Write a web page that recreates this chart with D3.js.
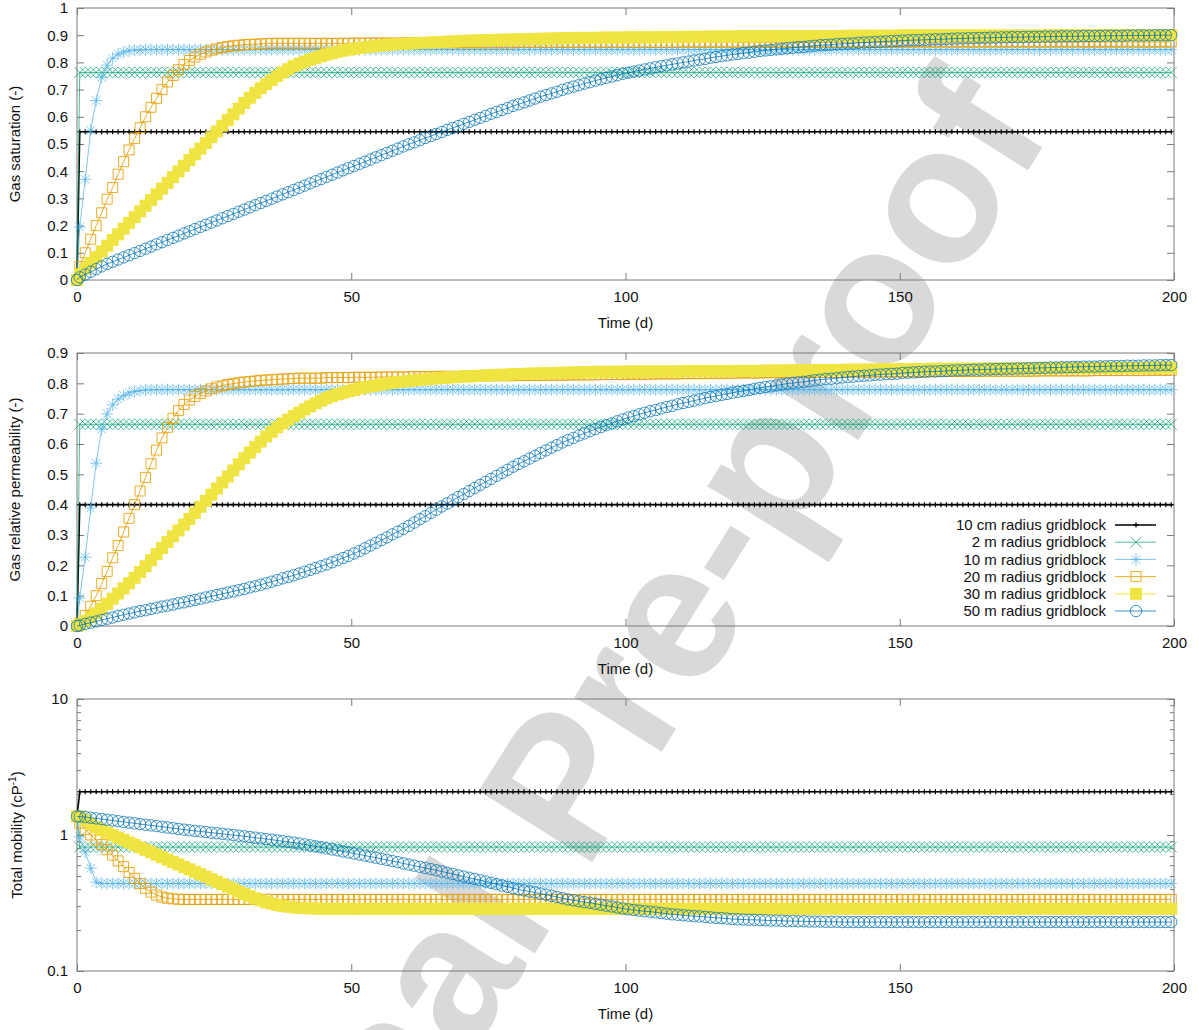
<!DOCTYPE html>
<html>
<head>
<meta charset="utf-8">
<script src="https://cdn.jsdelivr.net/npm/d3@7"></script>
<style>
  body { margin: 0; background: #fff; }
  svg { display: block; font-family: "Liberation Sans", Arial, sans-serif; }
</style>
</head>
<body>
<svg id="chart" width="1199" height="1030"></svg>
<script>
// Output times (d): initial state, then one record per day at mid-step.
const days = [0].concat(d3.range(0.5, 200, 1));

const seriesNames = ["10 cm radius gridblock", "2 m radius gridblock", "10 m radius gridblock",
                     "20 m radius gridblock", "30 m radius gridblock", "50 m radius gridblock"];

const xTicks = [0, 50, 100, 150, 200];
const sgTicks = [0, 0.1, 0.2, 0.3, 0.4, 0.5, 0.6, 0.7, 0.8, 0.9, 1];
const krTicks = [0, 0.1, 0.2, 0.3, 0.4, 0.5, 0.6, 0.7, 0.8, 0.9];
const mobTicks = [0.1, 1, 10];
const mobMinorTicks = [0.2, 0.3, 0.4, 0.5, 0.6, 0.7, 0.8, 0.9, 2, 3, 4, 5, 6, 7, 8, 9];

// ---------- Gas saturation (-) ----------
const sg10cm = [0,
0.545,0.545,0.545,0.545,0.545,0.545,0.545,0.545,0.545,0.545,
0.545,0.545,0.545,0.545,0.545,0.545,0.545,0.545,0.545,0.545,
0.545,0.545,0.545,0.545,0.545,0.545,0.545,0.545,0.545,0.545,
0.545,0.545,0.545,0.545,0.545,0.545,0.545,0.545,0.545,0.545,
0.545,0.545,0.545,0.545,0.545,0.545,0.545,0.545,0.545,0.545,
0.545,0.545,0.545,0.545,0.545,0.545,0.545,0.545,0.545,0.545,
0.545,0.545,0.545,0.545,0.545,0.545,0.545,0.545,0.545,0.545,
0.545,0.545,0.545,0.545,0.545,0.545,0.545,0.545,0.545,0.545,
0.545,0.545,0.545,0.545,0.545,0.545,0.545,0.545,0.545,0.545,
0.545,0.545,0.545,0.545,0.545,0.545,0.545,0.545,0.545,0.545,
0.545,0.545,0.545,0.545,0.545,0.545,0.545,0.545,0.545,0.545,
0.545,0.545,0.545,0.545,0.545,0.545,0.545,0.545,0.545,0.545,
0.545,0.545,0.545,0.545,0.545,0.545,0.545,0.545,0.545,0.545,
0.545,0.545,0.545,0.545,0.545,0.545,0.545,0.545,0.545,0.545,
0.545,0.545,0.545,0.545,0.545,0.545,0.545,0.545,0.545,0.545,
0.545,0.545,0.545,0.545,0.545,0.545,0.545,0.545,0.545,0.545,
0.545,0.545,0.545,0.545,0.545,0.545,0.545,0.545,0.545,0.545,
0.545,0.545,0.545,0.545,0.545,0.545,0.545,0.545,0.545,0.545,
0.545,0.545,0.545,0.545,0.545,0.545,0.545,0.545,0.545,0.545,
0.545,0.545,0.545,0.545,0.545,0.545,0.545,0.545,0.545,0.545];

const sg2m = [0,
0.763,0.763,0.763,0.763,0.763,0.763,0.763,0.763,0.763,0.763,
0.763,0.763,0.763,0.763,0.763,0.763,0.763,0.763,0.763,0.763,
0.763,0.763,0.763,0.763,0.763,0.763,0.763,0.763,0.763,0.763,
0.763,0.763,0.763,0.763,0.763,0.763,0.763,0.763,0.763,0.763,
0.763,0.763,0.763,0.763,0.763,0.763,0.763,0.763,0.763,0.763,
0.763,0.763,0.763,0.763,0.763,0.763,0.763,0.763,0.763,0.763,
0.763,0.763,0.763,0.763,0.763,0.763,0.763,0.763,0.763,0.763,
0.763,0.763,0.763,0.763,0.763,0.763,0.763,0.763,0.763,0.763,
0.763,0.763,0.763,0.763,0.763,0.763,0.763,0.763,0.763,0.763,
0.763,0.763,0.763,0.763,0.763,0.763,0.763,0.763,0.763,0.763,
0.763,0.763,0.763,0.763,0.763,0.763,0.763,0.763,0.763,0.763,
0.763,0.763,0.763,0.763,0.763,0.763,0.763,0.763,0.763,0.763,
0.763,0.763,0.763,0.763,0.763,0.763,0.763,0.763,0.763,0.763,
0.763,0.763,0.763,0.763,0.763,0.763,0.763,0.763,0.763,0.763,
0.763,0.763,0.763,0.763,0.763,0.763,0.763,0.763,0.763,0.763,
0.763,0.763,0.763,0.763,0.763,0.763,0.763,0.763,0.763,0.763,
0.763,0.763,0.763,0.763,0.763,0.763,0.763,0.763,0.763,0.763,
0.763,0.763,0.763,0.763,0.763,0.763,0.763,0.763,0.763,0.763,
0.763,0.763,0.763,0.763,0.763,0.763,0.763,0.763,0.763,0.763,
0.763,0.763,0.763,0.763,0.763,0.763,0.763,0.763,0.763,0.763];

const sg10m = [0,
0.195,0.37,0.55,0.66,0.745,0.79,0.815,0.83,0.838,0.843,
0.845,0.846,0.847,0.847,0.847,0.847,0.847,0.847,0.847,0.847,
0.847,0.847,0.847,0.847,0.847,0.847,0.847,0.847,0.847,0.847,
0.847,0.847,0.847,0.847,0.847,0.847,0.847,0.847,0.847,0.847,
0.847,0.847,0.847,0.847,0.847,0.847,0.847,0.847,0.847,0.847,
0.847,0.847,0.847,0.847,0.847,0.847,0.847,0.847,0.847,0.847,
0.847,0.847,0.847,0.847,0.847,0.847,0.847,0.847,0.847,0.847,
0.847,0.847,0.847,0.847,0.847,0.847,0.847,0.847,0.847,0.847,
0.847,0.847,0.847,0.847,0.847,0.847,0.847,0.847,0.847,0.847,
0.847,0.847,0.847,0.847,0.847,0.847,0.847,0.847,0.847,0.847,
0.847,0.847,0.847,0.847,0.847,0.847,0.847,0.847,0.847,0.847,
0.847,0.847,0.847,0.847,0.847,0.847,0.847,0.847,0.847,0.847,
0.847,0.847,0.847,0.847,0.847,0.847,0.847,0.847,0.847,0.847,
0.847,0.847,0.847,0.847,0.847,0.847,0.847,0.847,0.847,0.847,
0.847,0.847,0.847,0.847,0.847,0.847,0.847,0.847,0.847,0.847,
0.847,0.847,0.847,0.847,0.847,0.847,0.847,0.847,0.847,0.847,
0.847,0.847,0.847,0.847,0.847,0.847,0.847,0.847,0.847,0.847,
0.847,0.847,0.847,0.847,0.847,0.847,0.847,0.847,0.847,0.847,
0.847,0.847,0.847,0.847,0.847,0.847,0.847,0.847,0.847,0.847,
0.847,0.847,0.847,0.847,0.847,0.847,0.847,0.847,0.847,0.847];

const sg20m = [0,
0.05,0.1,0.15,0.2,0.247,0.297,0.34,0.389,0.435,0.478,
0.52,0.56,0.6,0.635,0.668,0.7,0.728,0.752,0.773,0.792,
0.807,0.82,0.83,0.838,0.845,0.85,0.855,0.858,0.861,0.863,
0.865,0.866,0.867,0.868,0.869,0.87,0.87,0.87,0.87,0.87,
0.87,0.87,0.87,0.87,0.87,0.87,0.87,0.87,0.87,0.87,
0.871,0.871,0.871,0.871,0.871,0.871,0.871,0.871,0.871,0.871,
0.872,0.872,0.872,0.872,0.872,0.872,0.872,0.872,0.872,0.872,
0.872,0.872,0.872,0.872,0.872,0.872,0.872,0.872,0.872,0.872,
0.873,0.873,0.873,0.873,0.873,0.873,0.873,0.873,0.873,0.873,
0.873,0.873,0.873,0.873,0.873,0.873,0.873,0.873,0.873,0.873,
0.873,0.873,0.873,0.873,0.873,0.873,0.873,0.873,0.873,0.873,
0.874,0.874,0.874,0.874,0.874,0.874,0.874,0.874,0.874,0.874,
0.874,0.874,0.874,0.874,0.874,0.874,0.874,0.874,0.874,0.874,
0.874,0.874,0.874,0.874,0.874,0.874,0.874,0.874,0.874,0.874,
0.874,0.874,0.874,0.874,0.874,0.874,0.874,0.874,0.874,0.874,
0.875,0.875,0.875,0.875,0.875,0.875,0.875,0.875,0.875,0.875,
0.875,0.875,0.875,0.875,0.875,0.875,0.875,0.875,0.875,0.875,
0.875,0.875,0.875,0.875,0.875,0.875,0.875,0.875,0.875,0.875,
0.875,0.875,0.875,0.875,0.875,0.875,0.875,0.875,0.875,0.875,
0.875,0.875,0.875,0.875,0.875,0.875,0.875,0.875,0.875,0.875];

const sg30m = [0,
0.021,0.042,0.063,0.084,0.105,0.126,0.147,0.168,0.189,0.21,
0.231,0.252,0.273,0.294,0.315,0.336,0.357,0.378,0.399,0.42,
0.441,0.462,0.483,0.504,0.525,0.546,0.567,0.588,0.609,0.63,
0.651,0.67,0.688,0.705,0.72,0.735,0.75,0.763,0.775,0.786,
0.795,0.803,0.81,0.817,0.823,0.829,0.834,0.839,0.843,0.847,
0.85,0.853,0.856,0.858,0.86,0.862,0.864,0.866,0.867,0.868,
0.869,0.87,0.871,0.872,0.873,0.874,0.875,0.876,0.877,0.878,
0.879,0.88,0.88,0.881,0.882,0.882,0.883,0.883,0.884,0.884,
0.885,0.885,0.886,0.886,0.887,0.887,0.888,0.888,0.889,0.889,
0.89,0.89,0.89,0.89,0.89,0.891,0.891,0.891,0.891,0.891,
0.892,0.892,0.892,0.892,0.892,0.893,0.893,0.893,0.893,0.893,
0.894,0.894,0.894,0.894,0.894,0.895,0.895,0.895,0.895,0.895,
0.896,0.896,0.896,0.896,0.896,0.896,0.896,0.896,0.896,0.896,
0.897,0.897,0.897,0.897,0.897,0.897,0.897,0.897,0.897,0.897,
0.898,0.898,0.898,0.898,0.898,0.898,0.898,0.898,0.898,0.898,
0.899,0.899,0.899,0.899,0.899,0.899,0.899,0.899,0.899,0.899,
0.899,0.899,0.899,0.899,0.899,0.899,0.899,0.899,0.899,0.899,
0.899,0.899,0.899,0.899,0.899,0.9,0.9,0.9,0.9,0.9,
0.9,0.9,0.9,0.9,0.9,0.9,0.9,0.9,0.9,0.9,
0.9,0.9,0.9,0.9,0.9,0.9,0.9,0.9,0.9,0.9];

const sg50m = [0,
0.01,0.02,0.03,0.04,0.05,0.059,0.067,0.075,0.083,0.091,
0.099,0.107,0.115,0.123,0.131,0.139,0.147,0.155,0.163,0.171,
0.179,0.187,0.195,0.203,0.211,0.219,0.227,0.235,0.243,0.251,
0.259,0.267,0.275,0.283,0.291,0.299,0.307,0.315,0.323,0.331,
0.339,0.347,0.355,0.363,0.371,0.379,0.387,0.395,0.403,0.411,
0.419,0.427,0.435,0.443,0.451,0.459,0.467,0.475,0.483,0.491,
0.499,0.506,0.514,0.522,0.529,0.537,0.544,0.552,0.559,0.566,
0.574,0.581,0.589,0.596,0.603,0.611,0.618,0.625,0.632,0.64,
0.646,0.653,0.66,0.667,0.674,0.68,0.686,0.692,0.699,0.705,
0.711,0.716,0.722,0.727,0.733,0.738,0.743,0.748,0.753,0.758,
0.762,0.766,0.77,0.774,0.778,0.782,0.786,0.789,0.793,0.796,
0.8,0.803,0.807,0.81,0.813,0.817,0.82,0.823,0.826,0.829,
0.831,0.834,0.836,0.839,0.842,0.844,0.846,0.848,0.85,0.852,
0.854,0.856,0.857,0.859,0.861,0.863,0.864,0.865,0.867,0.868,
0.869,0.87,0.872,0.873,0.874,0.875,0.876,0.877,0.878,0.879,
0.88,0.881,0.882,0.882,0.883,0.884,0.885,0.885,0.886,0.887,
0.888,0.888,0.889,0.889,0.89,0.89,0.891,0.891,0.892,0.892,
0.893,0.893,0.893,0.894,0.894,0.894,0.895,0.895,0.895,0.896,
0.896,0.896,0.896,0.897,0.897,0.897,0.897,0.898,0.898,0.898,
0.898,0.899,0.899,0.899,0.899,0.899,0.9,0.9,0.9,0.9];

// ---------- Gas relative permeability (-) ----------
const kr10cm = [0,
0.4,0.4,0.4,0.4,0.4,0.4,0.4,0.4,0.4,0.4,
0.4,0.4,0.4,0.4,0.4,0.4,0.4,0.4,0.4,0.4,
0.4,0.4,0.4,0.4,0.4,0.4,0.4,0.4,0.4,0.4,
0.4,0.4,0.4,0.4,0.4,0.4,0.4,0.4,0.4,0.4,
0.4,0.4,0.4,0.4,0.4,0.4,0.4,0.4,0.4,0.4,
0.4,0.4,0.4,0.4,0.4,0.4,0.4,0.4,0.4,0.4,
0.4,0.4,0.4,0.4,0.4,0.4,0.4,0.4,0.4,0.4,
0.4,0.4,0.4,0.4,0.4,0.4,0.4,0.4,0.4,0.4,
0.4,0.4,0.4,0.4,0.4,0.4,0.4,0.4,0.4,0.4,
0.4,0.4,0.4,0.4,0.4,0.4,0.4,0.4,0.4,0.4,
0.4,0.4,0.4,0.4,0.4,0.4,0.4,0.4,0.4,0.4,
0.4,0.4,0.4,0.4,0.4,0.4,0.4,0.4,0.4,0.4,
0.4,0.4,0.4,0.4,0.4,0.4,0.4,0.4,0.4,0.4,
0.4,0.4,0.4,0.4,0.4,0.4,0.4,0.4,0.4,0.4,
0.4,0.4,0.4,0.4,0.4,0.4,0.4,0.4,0.4,0.4,
0.4,0.4,0.4,0.4,0.4,0.4,0.4,0.4,0.4,0.4,
0.4,0.4,0.4,0.4,0.4,0.4,0.4,0.4,0.4,0.4,
0.4,0.4,0.4,0.4,0.4,0.4,0.4,0.4,0.4,0.4,
0.4,0.4,0.4,0.4,0.4,0.4,0.4,0.4,0.4,0.4,
0.4,0.4,0.4,0.4,0.4,0.4,0.4,0.4,0.4,0.4];

const kr2m = [0,
0.665,0.665,0.665,0.665,0.665,0.665,0.665,0.665,0.665,0.665,
0.665,0.665,0.665,0.665,0.665,0.665,0.665,0.665,0.665,0.665,
0.665,0.665,0.665,0.665,0.665,0.665,0.665,0.665,0.665,0.665,
0.665,0.665,0.665,0.665,0.665,0.665,0.665,0.665,0.665,0.665,
0.665,0.665,0.665,0.665,0.665,0.665,0.665,0.665,0.665,0.665,
0.665,0.665,0.665,0.665,0.665,0.665,0.665,0.665,0.665,0.665,
0.665,0.665,0.665,0.665,0.665,0.665,0.665,0.665,0.665,0.665,
0.665,0.665,0.665,0.665,0.665,0.665,0.665,0.665,0.665,0.665,
0.665,0.665,0.665,0.665,0.665,0.665,0.665,0.665,0.665,0.665,
0.665,0.665,0.665,0.665,0.665,0.665,0.665,0.665,0.665,0.665,
0.665,0.665,0.665,0.665,0.665,0.665,0.665,0.665,0.665,0.665,
0.665,0.665,0.665,0.665,0.665,0.665,0.665,0.665,0.665,0.665,
0.665,0.665,0.665,0.665,0.665,0.665,0.665,0.665,0.665,0.665,
0.665,0.665,0.665,0.665,0.665,0.665,0.665,0.665,0.665,0.665,
0.665,0.665,0.665,0.665,0.665,0.665,0.665,0.665,0.665,0.665,
0.665,0.665,0.665,0.665,0.665,0.665,0.665,0.665,0.665,0.665,
0.665,0.665,0.665,0.665,0.665,0.665,0.665,0.665,0.665,0.665,
0.665,0.665,0.665,0.665,0.665,0.665,0.665,0.665,0.665,0.665,
0.665,0.665,0.665,0.665,0.665,0.665,0.665,0.665,0.665,0.665,
0.665,0.665,0.665,0.665,0.665,0.665,0.665,0.665,0.665,0.665];

const kr10m = [0,
0.092,0.227,0.389,0.537,0.649,0.699,0.729,0.748,0.76,0.768,
0.773,0.776,0.778,0.779,0.779,0.779,0.779,0.779,0.779,0.779,
0.779,0.779,0.779,0.779,0.779,0.779,0.779,0.779,0.779,0.779,
0.779,0.779,0.779,0.779,0.779,0.779,0.779,0.779,0.779,0.779,
0.779,0.779,0.779,0.779,0.779,0.779,0.779,0.779,0.779,0.779,
0.779,0.779,0.779,0.779,0.779,0.779,0.779,0.779,0.779,0.779,
0.779,0.779,0.779,0.779,0.779,0.779,0.779,0.779,0.779,0.779,
0.779,0.779,0.779,0.779,0.779,0.779,0.779,0.779,0.779,0.779,
0.779,0.779,0.779,0.779,0.779,0.779,0.779,0.779,0.779,0.779,
0.779,0.779,0.779,0.779,0.779,0.779,0.779,0.779,0.779,0.779,
0.779,0.779,0.779,0.779,0.779,0.779,0.779,0.779,0.779,0.779,
0.779,0.779,0.779,0.779,0.779,0.779,0.779,0.779,0.779,0.779,
0.779,0.779,0.779,0.779,0.779,0.779,0.779,0.779,0.779,0.779,
0.779,0.779,0.779,0.779,0.779,0.779,0.779,0.779,0.779,0.779,
0.779,0.779,0.779,0.779,0.779,0.779,0.779,0.779,0.779,0.779,
0.779,0.779,0.779,0.779,0.779,0.779,0.779,0.779,0.779,0.779,
0.779,0.779,0.779,0.779,0.779,0.779,0.779,0.779,0.779,0.779,
0.779,0.779,0.779,0.779,0.779,0.779,0.779,0.779,0.779,0.779,
0.779,0.779,0.779,0.779,0.779,0.779,0.779,0.779,0.779,0.779,
0.779,0.779,0.779,0.779,0.779,0.779,0.779,0.779,0.779,0.779];

const kr20m = [0,
0.01,0.035,0.065,0.1,0.14,0.18,0.225,0.265,0.31,0.355,
0.4,0.445,0.49,0.535,0.58,0.62,0.655,0.685,0.71,0.73,
0.745,0.757,0.767,0.775,0.782,0.788,0.792,0.796,0.799,0.802,
0.804,0.806,0.808,0.81,0.811,0.812,0.813,0.814,0.815,0.816,
0.817,0.817,0.817,0.817,0.817,0.819,0.819,0.819,0.819,0.819,
0.82,0.82,0.82,0.82,0.82,0.821,0.821,0.821,0.821,0.821,
0.822,0.822,0.822,0.822,0.822,0.823,0.823,0.823,0.823,0.823,
0.824,0.824,0.824,0.824,0.824,0.825,0.825,0.825,0.825,0.825,
0.826,0.826,0.826,0.826,0.826,0.827,0.827,0.827,0.827,0.827,
0.828,0.828,0.828,0.828,0.828,0.829,0.829,0.829,0.829,0.829,
0.83,0.83,0.83,0.83,0.83,0.831,0.831,0.831,0.831,0.831,
0.832,0.832,0.832,0.832,0.832,0.833,0.833,0.833,0.833,0.833,
0.834,0.834,0.834,0.834,0.834,0.835,0.835,0.835,0.835,0.835,
0.836,0.836,0.836,0.836,0.836,0.836,0.836,0.836,0.836,0.836,
0.837,0.837,0.837,0.837,0.837,0.838,0.838,0.838,0.838,0.838,
0.838,0.838,0.838,0.838,0.838,0.839,0.839,0.839,0.839,0.839,
0.839,0.839,0.839,0.839,0.839,0.84,0.84,0.84,0.84,0.84,
0.84,0.84,0.84,0.84,0.84,0.841,0.841,0.841,0.841,0.841,
0.841,0.841,0.841,0.841,0.841,0.842,0.842,0.842,0.842,0.842,
0.842,0.842,0.842,0.842,0.842,0.843,0.843,0.843,0.843,0.843];

const kr30m = [0,
0.005,0.017,0.029,0.042,0.057,0.073,0.09,0.107,0.124,0.141,
0.159,0.178,0.197,0.217,0.237,0.257,0.277,0.296,0.315,0.334,
0.353,0.373,0.393,0.413,0.433,0.453,0.473,0.493,0.513,0.533,
0.553,0.572,0.59,0.608,0.625,0.64,0.655,0.668,0.68,0.692,
0.703,0.714,0.724,0.734,0.743,0.751,0.758,0.764,0.769,0.774,
0.778,0.783,0.787,0.79,0.793,0.796,0.799,0.802,0.804,0.806,
0.808,0.81,0.812,0.813,0.815,0.816,0.818,0.819,0.82,0.821,
0.822,0.823,0.824,0.825,0.826,0.827,0.828,0.828,0.829,0.83,
0.831,0.831,0.832,0.832,0.833,0.833,0.834,0.834,0.835,0.835,
0.836,0.836,0.837,0.837,0.838,0.838,0.838,0.838,0.838,0.838,
0.839,0.839,0.839,0.839,0.839,0.839,0.839,0.839,0.839,0.839,
0.84,0.84,0.84,0.84,0.84,0.84,0.84,0.84,0.84,0.84,
0.841,0.841,0.841,0.841,0.841,0.842,0.842,0.842,0.842,0.842,
0.843,0.843,0.843,0.843,0.843,0.844,0.844,0.844,0.844,0.844,
0.845,0.845,0.845,0.845,0.845,0.846,0.846,0.846,0.846,0.846,
0.847,0.847,0.847,0.847,0.847,0.848,0.848,0.848,0.848,0.848,
0.848,0.848,0.848,0.848,0.848,0.849,0.849,0.849,0.849,0.849,
0.849,0.849,0.849,0.849,0.849,0.85,0.85,0.85,0.85,0.85,
0.85,0.85,0.85,0.85,0.85,0.851,0.851,0.851,0.851,0.851,
0.851,0.851,0.851,0.851,0.851,0.852,0.852,0.852,0.852,0.852];

const kr50m = [0,
0.002,0.007,0.011,0.015,0.02,0.024,0.028,0.033,0.037,0.041,
0.045,0.049,0.052,0.056,0.06,0.064,0.067,0.071,0.075,0.078,
0.082,0.086,0.09,0.094,0.098,0.102,0.106,0.11,0.114,0.118,
0.122,0.127,0.131,0.136,0.141,0.146,0.151,0.157,0.162,0.167,
0.173,0.179,0.185,0.191,0.197,0.203,0.21,0.217,0.224,0.231,
0.239,0.247,0.256,0.265,0.274,0.283,0.292,0.302,0.311,0.32,
0.33,0.341,0.352,0.362,0.373,0.383,0.394,0.404,0.415,0.425,
0.435,0.445,0.455,0.465,0.475,0.485,0.495,0.505,0.515,0.525,
0.534,0.543,0.552,0.561,0.57,0.579,0.588,0.596,0.605,0.613,
0.62,0.628,0.635,0.642,0.649,0.656,0.662,0.668,0.675,0.681,
0.687,0.692,0.698,0.703,0.708,0.712,0.717,0.722,0.726,0.731,
0.735,0.739,0.743,0.747,0.751,0.755,0.758,0.762,0.765,0.769,
0.772,0.775,0.778,0.782,0.785,0.788,0.79,0.793,0.796,0.799,
0.801,0.803,0.805,0.807,0.81,0.812,0.814,0.815,0.817,0.819,
0.821,0.822,0.824,0.825,0.826,0.828,0.829,0.83,0.831,0.832,
0.834,0.835,0.836,0.837,0.838,0.839,0.839,0.84,0.841,0.842,
0.843,0.843,0.844,0.845,0.845,0.846,0.846,0.847,0.847,0.848,
0.848,0.849,0.849,0.85,0.85,0.851,0.851,0.852,0.852,0.853,
0.853,0.854,0.854,0.855,0.855,0.855,0.856,0.856,0.857,0.857,
0.857,0.858,0.858,0.858,0.859,0.859,0.859,0.86,0.86,0.86];

// ---------- Total mobility (1/cP) ----------
const mob10cm = [1.37,
2.08,2.08,2.08,2.08,2.08,2.08,2.08,2.08,2.08,2.08,
2.08,2.08,2.08,2.08,2.08,2.08,2.08,2.08,2.08,2.08,
2.08,2.08,2.08,2.08,2.08,2.08,2.08,2.08,2.08,2.08,
2.08,2.08,2.08,2.08,2.08,2.08,2.08,2.08,2.08,2.08,
2.08,2.08,2.08,2.08,2.08,2.08,2.08,2.08,2.08,2.08,
2.08,2.08,2.08,2.08,2.08,2.08,2.08,2.08,2.08,2.08,
2.08,2.08,2.08,2.08,2.08,2.08,2.08,2.08,2.08,2.08,
2.08,2.08,2.08,2.08,2.08,2.08,2.08,2.08,2.08,2.08,
2.08,2.08,2.08,2.08,2.08,2.08,2.08,2.08,2.08,2.08,
2.08,2.08,2.08,2.08,2.08,2.08,2.08,2.08,2.08,2.08,
2.08,2.08,2.08,2.08,2.08,2.08,2.08,2.08,2.08,2.08,
2.08,2.08,2.08,2.08,2.08,2.08,2.08,2.08,2.08,2.08,
2.08,2.08,2.08,2.08,2.08,2.08,2.08,2.08,2.08,2.08,
2.08,2.08,2.08,2.08,2.08,2.08,2.08,2.08,2.08,2.08,
2.08,2.08,2.08,2.08,2.08,2.08,2.08,2.08,2.08,2.08,
2.08,2.08,2.08,2.08,2.08,2.08,2.08,2.08,2.08,2.08,
2.08,2.08,2.08,2.08,2.08,2.08,2.08,2.08,2.08,2.08,
2.08,2.08,2.08,2.08,2.08,2.08,2.08,2.08,2.08,2.08,
2.08,2.08,2.08,2.08,2.08,2.08,2.08,2.08,2.08,2.08,
2.08,2.08,2.08,2.08,2.08,2.08,2.08,2.08,2.08,2.08];

const mob2m = [1.37,
0.815,0.815,0.815,0.815,0.815,0.815,0.815,0.815,0.815,0.815,
0.815,0.815,0.815,0.815,0.815,0.815,0.815,0.815,0.815,0.815,
0.815,0.815,0.815,0.815,0.815,0.815,0.815,0.815,0.815,0.815,
0.815,0.815,0.815,0.815,0.815,0.815,0.815,0.815,0.815,0.815,
0.815,0.815,0.815,0.815,0.815,0.815,0.815,0.815,0.815,0.815,
0.815,0.815,0.815,0.815,0.815,0.815,0.815,0.815,0.815,0.815,
0.815,0.815,0.815,0.815,0.815,0.815,0.815,0.815,0.815,0.815,
0.815,0.815,0.815,0.815,0.815,0.815,0.815,0.815,0.815,0.815,
0.815,0.815,0.815,0.815,0.815,0.815,0.815,0.815,0.815,0.815,
0.815,0.815,0.815,0.815,0.815,0.815,0.815,0.815,0.815,0.815,
0.815,0.815,0.815,0.815,0.815,0.815,0.815,0.815,0.815,0.815,
0.815,0.815,0.815,0.815,0.815,0.815,0.815,0.815,0.815,0.815,
0.815,0.815,0.815,0.815,0.815,0.815,0.815,0.815,0.815,0.815,
0.815,0.815,0.815,0.815,0.815,0.815,0.815,0.815,0.815,0.815,
0.815,0.815,0.815,0.815,0.815,0.815,0.815,0.815,0.815,0.815,
0.815,0.815,0.815,0.815,0.815,0.815,0.815,0.815,0.815,0.815,
0.815,0.815,0.815,0.815,0.815,0.815,0.815,0.815,0.815,0.815,
0.815,0.815,0.815,0.815,0.815,0.815,0.815,0.815,0.815,0.815,
0.815,0.815,0.815,0.815,0.815,0.815,0.815,0.815,0.815,0.815,
0.815,0.815,0.815,0.815,0.815,0.815,0.815,0.815,0.815,0.815];

const mob10m = [1.37,
0.97,0.75,0.57,0.45,0.44,0.44,0.44,0.44,0.44,0.44,
0.44,0.44,0.44,0.44,0.44,0.44,0.44,0.44,0.44,0.44,
0.44,0.44,0.44,0.44,0.44,0.44,0.44,0.44,0.44,0.44,
0.44,0.44,0.44,0.44,0.44,0.44,0.44,0.44,0.44,0.44,
0.44,0.44,0.44,0.44,0.44,0.44,0.44,0.44,0.44,0.44,
0.44,0.44,0.44,0.44,0.44,0.44,0.44,0.44,0.44,0.44,
0.44,0.44,0.44,0.44,0.44,0.44,0.44,0.44,0.44,0.44,
0.44,0.44,0.44,0.44,0.44,0.44,0.44,0.44,0.44,0.44,
0.44,0.44,0.44,0.44,0.44,0.44,0.44,0.44,0.44,0.44,
0.44,0.44,0.44,0.44,0.44,0.44,0.44,0.44,0.44,0.44,
0.44,0.44,0.44,0.44,0.44,0.44,0.44,0.44,0.44,0.44,
0.44,0.44,0.44,0.44,0.44,0.44,0.44,0.44,0.44,0.44,
0.44,0.44,0.44,0.44,0.44,0.44,0.44,0.44,0.44,0.44,
0.44,0.44,0.44,0.44,0.44,0.44,0.44,0.44,0.44,0.44,
0.44,0.44,0.44,0.44,0.44,0.44,0.44,0.44,0.44,0.44,
0.44,0.44,0.44,0.44,0.44,0.44,0.44,0.44,0.44,0.44,
0.44,0.44,0.44,0.44,0.44,0.44,0.44,0.44,0.44,0.44,
0.44,0.44,0.44,0.44,0.44,0.44,0.44,0.44,0.44,0.44,
0.44,0.44,0.44,0.44,0.44,0.44,0.44,0.44,0.44,0.44,
0.44,0.44,0.44,0.44,0.44,0.44,0.44,0.44,0.44,0.44];

const mob20m = [1.37,
1.22,1.1,1.0,0.92,0.85,0.78,0.71,0.645,0.585,0.53,
0.48,0.44,0.405,0.38,0.362,0.35,0.343,0.339,0.337,0.336,
0.336,0.336,0.336,0.336,0.336,0.336,0.336,0.336,0.336,0.336,
0.336,0.336,0.336,0.336,0.336,0.336,0.336,0.336,0.336,0.336,
0.336,0.336,0.336,0.336,0.336,0.336,0.336,0.336,0.336,0.336,
0.336,0.336,0.336,0.336,0.336,0.336,0.336,0.336,0.336,0.336,
0.336,0.336,0.336,0.336,0.336,0.336,0.336,0.336,0.336,0.336,
0.336,0.336,0.336,0.336,0.336,0.336,0.336,0.336,0.336,0.336,
0.336,0.336,0.336,0.336,0.336,0.336,0.336,0.336,0.336,0.336,
0.336,0.336,0.336,0.336,0.336,0.336,0.336,0.336,0.336,0.336,
0.336,0.336,0.336,0.336,0.336,0.336,0.336,0.336,0.336,0.336,
0.336,0.336,0.336,0.336,0.336,0.336,0.336,0.336,0.336,0.336,
0.336,0.336,0.336,0.336,0.336,0.336,0.336,0.336,0.336,0.336,
0.336,0.336,0.336,0.336,0.336,0.336,0.336,0.336,0.336,0.336,
0.336,0.336,0.336,0.336,0.336,0.336,0.336,0.336,0.336,0.336,
0.336,0.336,0.336,0.336,0.336,0.336,0.336,0.336,0.336,0.336,
0.336,0.336,0.336,0.336,0.336,0.336,0.336,0.336,0.336,0.336,
0.336,0.336,0.336,0.336,0.336,0.336,0.336,0.336,0.336,0.336,
0.336,0.336,0.336,0.336,0.336,0.336,0.336,0.336,0.336,0.336,
0.336,0.336,0.336,0.336,0.336,0.336,0.336,0.336,0.336,0.336];

const mob30m = [1.37,
1.363,1.285,1.211,1.141,1.085,1.04,0.998,0.957,0.919,0.881,
0.846,0.81,0.778,0.746,0.716,0.687,0.659,0.632,0.607,0.582,
0.559,0.536,0.514,0.493,0.473,0.453,0.435,0.417,0.401,0.384,
0.369,0.355,0.342,0.33,0.32,0.313,0.306,0.301,0.297,0.294,
0.291,0.29,0.289,0.288,0.287,0.287,0.287,0.287,0.287,0.287,
0.287,0.287,0.287,0.287,0.287,0.287,0.287,0.287,0.287,0.287,
0.287,0.287,0.287,0.287,0.287,0.287,0.287,0.287,0.287,0.287,
0.287,0.287,0.287,0.287,0.287,0.287,0.287,0.287,0.287,0.287,
0.287,0.287,0.287,0.287,0.287,0.287,0.287,0.287,0.287,0.287,
0.287,0.287,0.287,0.287,0.287,0.287,0.287,0.287,0.287,0.287,
0.287,0.287,0.287,0.287,0.287,0.287,0.287,0.287,0.287,0.287,
0.287,0.287,0.287,0.287,0.287,0.287,0.287,0.287,0.287,0.287,
0.287,0.287,0.287,0.287,0.287,0.287,0.287,0.287,0.287,0.287,
0.287,0.287,0.287,0.287,0.287,0.287,0.287,0.287,0.287,0.287,
0.287,0.287,0.287,0.287,0.287,0.287,0.287,0.287,0.287,0.287,
0.287,0.287,0.287,0.287,0.287,0.287,0.287,0.287,0.287,0.287,
0.287,0.287,0.287,0.287,0.287,0.287,0.287,0.287,0.287,0.287,
0.287,0.287,0.287,0.287,0.287,0.287,0.287,0.287,0.287,0.287,
0.287,0.287,0.287,0.287,0.287,0.287,0.287,0.287,0.287,0.287,
0.287,0.287,0.287,0.287,0.287,0.287,0.287,0.287,0.287,0.287];

const mob50m = [1.37,
1.365,1.356,1.34,1.325,1.31,1.294,1.279,1.263,1.248,1.233,
1.218,1.204,1.19,1.177,1.163,1.15,1.136,1.122,1.108,1.095,
1.083,1.072,1.062,1.051,1.04,1.03,1.02,1.009,0.999,0.988,
0.978,0.967,0.956,0.945,0.934,0.923,0.912,0.901,0.89,0.879,
0.866,0.853,0.839,0.825,0.812,0.798,0.784,0.771,0.757,0.744,
0.731,0.718,0.706,0.693,0.681,0.668,0.656,0.643,0.631,0.618,
0.606,0.595,0.584,0.572,0.561,0.55,0.539,0.528,0.517,0.505,
0.495,0.485,0.475,0.465,0.455,0.445,0.435,0.425,0.416,0.406,
0.398,0.391,0.384,0.378,0.371,0.364,0.357,0.35,0.343,0.336,
0.331,0.326,0.321,0.317,0.312,0.307,0.302,0.298,0.293,0.288,
0.284,0.281,0.278,0.275,0.273,0.27,0.267,0.264,0.261,0.259,
0.257,0.255,0.253,0.252,0.25,0.248,0.246,0.245,0.243,0.241,
0.24,0.239,0.238,0.238,0.237,0.236,0.235,0.235,0.234,0.233,
0.233,0.232,0.232,0.231,0.231,0.231,0.23,0.23,0.23,0.229,
0.229,0.229,0.229,0.229,0.229,0.229,0.229,0.229,0.229,0.229,
0.229,0.229,0.229,0.229,0.229,0.229,0.229,0.229,0.229,0.229,
0.229,0.229,0.229,0.229,0.229,0.229,0.229,0.229,0.229,0.229,
0.229,0.229,0.229,0.229,0.229,0.229,0.229,0.229,0.229,0.229,
0.229,0.229,0.229,0.229,0.229,0.229,0.229,0.229,0.229,0.229,
0.229,0.229,0.229,0.229,0.229,0.229,0.229,0.229,0.229,0.229];

// ---------- drawing ----------
const styles = [
  { color: "#000000", marker: "plus",    width: 1.6, opacity: 1 },
  { color: "#009e73", marker: "cross",   width: 1,   opacity: 0.7 },
  { color: "#56b4e9", marker: "star",    width: 1,   opacity: 0.75 },
  { color: "#e69f00", marker: "square",  width: 1,   opacity: 0.85 },
  { color: "#f0e442", marker: "fsquare", width: 1,   opacity: 1 },
  { color: "#0072b2", marker: "circle",  width: 1,   opacity: 0.75 }
];

const markerPath = {
  plus:    "M-2.5,0H2.5M0,-2.5V2.5",
  cross:   "M-5.5,-5.5L5.5,5.5M-5.5,5.5L5.5,-5.5",
  star:    "M-6,0H6M0,-6V6M-4.3,-4.3L4.3,4.3M-4.3,4.3L4.3,-4.3",
  square:  "M-5,-5H5V5H-5Z",
  fsquare: "M-6,-6H6V6H-6Z",
  circle:  "M5.7,0A5.7,5.7 0 1,1 -5.7,0A5.7,5.7 0 1,1 5.7,0Z"
};

const svg = d3.select("#chart");
const left = 77, right = 1174;
const frameColor = "#7a7a7a";
const x = d3.scaleLinear().domain([0, 200]).range([left, right]);

// watermark behind the plots
svg.append("text")
  .attr("transform", "translate(617,823) rotate(-57.8)")
  .attr("text-anchor", "middle")
  .attr("font-size", 195).attr("font-weight", "bold")
  .attr("font-family", '"Liberation Sans", Arial, sans-serif')
  .attr("fill", "#d9d9d9")
  .text("Journal Pre-proof");

const panels = [
  { top: 8,   bottom: 280, log: false, max: 1,   ticks: sgTicks,  title: "Gas saturation (-)", data: [sg10cm, sg2m, sg10m, sg20m, sg30m, sg50m] },
  { top: 353, bottom: 626, log: false, max: 0.9, ticks: krTicks,  title: "Gas relative permeability (-)", data: [kr10cm, kr2m, kr10m, kr20m, kr30m, kr50m], legend: true },
  { top: 699, bottom: 971, log: true,  ticks: mobTicks, title: "Total mobility (cP", data: [mob10cm, mob2m, mob10m, mob20m, mob30m, mob50m] }
];

function styleAxis(g) {
  g.select(".domain").remove();
  g.selectAll(".tick line").attr("stroke", frameColor);
  g.selectAll(".tick text").attr("fill", "#111").attr("font-size", 15)
    .attr("font-family", '"Liberation Sans", Arial, sans-serif');
}

function drawMarker(sel, st) {
  const p = sel.append("path").attr("d", markerPath[st.marker]);
  if (st.marker === "fsquare") p.attr("fill", st.color).attr("stroke", "none");
  else p.attr("fill", "none").attr("stroke", st.color)
        .attr("stroke-width", st.marker === "plus" ? 1.2 : 1)
        .attr("stroke-opacity", st.opacity);
  return p;
}

panels.forEach(pn => {
  const y = pn.log
    ? d3.scaleLog().domain([0.1, 10]).range([pn.bottom, pn.top])
    : d3.scaleLinear().domain([0, pn.max]).range([pn.bottom, pn.top]);
  const g = svg.append("g");

  // axes: ticks point inward on all four sides
  const fmt = d => String(d);
  g.append("g").attr("transform", `translate(${left},0)`)
    .call(d3.axisLeft(y).tickValues(pn.ticks).tickFormat(fmt).tickSize(-7).tickPadding(9)).call(styleAxis);
  g.append("g").attr("transform", `translate(${right},0)`)
    .call(d3.axisRight(y).tickValues(pn.ticks).tickFormat("").tickSize(-7)).call(styleAxis);
  g.append("g").attr("transform", `translate(0,${pn.bottom})`)
    .call(d3.axisBottom(x).tickValues(xTicks).tickFormat(fmt).tickSize(-7).tickPadding(11)).call(styleAxis);
  g.append("g").attr("transform", `translate(0,${pn.top})`)
    .call(d3.axisTop(x).tickValues(xTicks).tickFormat("").tickSize(-7)).call(styleAxis);
  if (pn.log) {
    g.append("g").attr("transform", `translate(${left},0)`)
      .call(d3.axisLeft(y).tickValues(mobMinorTicks).tickFormat("").tickSize(-4)).call(styleAxis);
    g.append("g").attr("transform", `translate(${right},0)`)
      .call(d3.axisRight(y).tickValues(mobMinorTicks).tickFormat("").tickSize(-4)).call(styleAxis);
  }

  g.append("rect").attr("x", left).attr("y", pn.top)
    .attr("width", right - left).attr("height", pn.bottom - pn.top)
    .attr("fill", "none").attr("stroke", frameColor).attr("stroke-width", 1);

  // axis titles
  g.append("text").attr("x", (left + right) / 2).attr("y", pn.bottom + 48)
    .attr("text-anchor", "middle").attr("font-size", 15).attr("fill", "#111").text("Time (d)");
  const yt = g.append("text")
    .attr("transform", `translate(${pn.log ? 22 : 20},${(pn.top + pn.bottom) / 2}) rotate(-90)`)
    .attr("text-anchor", "middle").attr("font-size", 15).attr("fill", "#111").text(pn.title);
  if (pn.log) {
    yt.append("tspan").attr("font-size", 10).attr("dy", -6).text("-1");
    yt.append("tspan").attr("dy", 6).text(")");
  }

  // series
  const line = d3.line().x((d, i) => x(days[i])).y(d => y(d));
  pn.data.forEach((vals, k) => {
    const st = styles[k];
    const sg = g.append("g");
    sg.append("path").datum(vals).attr("d", line)
      .attr("fill", "none").attr("stroke", st.color).attr("stroke-width", st.width)
      .attr("stroke-opacity", st.opacity);
    vals.forEach((v, i) => {
      drawMarker(sg, st).attr("transform", `translate(${x(days[i])},${y(v)})`);
    });
  });

  // legend
  if (pn.legend) {
    const lg = g.append("g");
    seriesNames.forEach((name, k) => {
      const st = styles[k];
      const ly = 525 + k * 17.2;
      lg.append("text").attr("x", 1106).attr("y", ly).attr("dy", "0.35em")
        .attr("text-anchor", "end").attr("font-size", 15).attr("fill", "#111").text(name);
      lg.append("line").attr("x1", 1115).attr("x2", 1156).attr("y1", ly).attr("y2", ly)
        .attr("stroke", st.color).attr("stroke-width", st.width).attr("stroke-opacity", st.opacity);
      drawMarker(lg, st).attr("transform", `translate(1136,${ly})`);
    });
  }
});
</script>
</body>
</html>
